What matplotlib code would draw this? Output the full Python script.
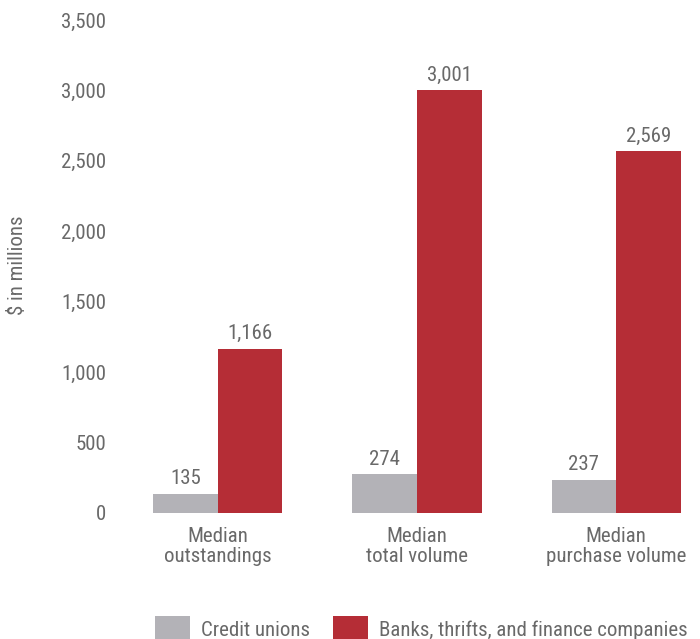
import matplotlib.pyplot as plt
import numpy as np

categories = ["Median\noutstandings", "Median\ntotal volume", "Median\npurchase volume"]
credit_unions = [135, 274, 237]
banks = [1166, 3001, 2569]
series_names = ["Credit unions", "Banks, thrifts, and finance companies"]
yticks = [0, 500, 1000, 1500, 2000, 2500, 3000, 3500]

GRAY = "#b3b2b7"
RED = "#b52d36"
TEXT = "#696969"
FS = 15

plt.rcParams["font.family"] = ["Roboto Condensed", "DejaVu Sans"]

W, H = 700, 639
fig = plt.figure(figsize=(W / 100, H / 100), dpi=100)
ax = fig.add_axes([120 / W, 1 - 513 / H, 580 / W, 493 / H])

x = np.arange(len(categories))
w = 0.325
b1 = ax.bar(x - w / 2, credit_unions, w, color=GRAY, label=series_names[0])
b2 = ax.bar(x + w / 2, banks, w, color=RED, label=series_names[1])

# value labels above each bar
for bars in (b1, b2):
    for rect in bars:
        v = rect.get_height()
        ax.annotate(f"{v:,.0f}", (rect.get_x() + rect.get_width() / 2, v),
                    xytext=(0, 7), textcoords="offset points",
                    ha="center", va="baseline", fontsize=FS, color=TEXT)

ax.set_xlim(-0.49, 2.42)
ax.set_ylim(0, 3500)
ax.set_yticks(yticks)
ax.set_yticklabels([f"{t:,}" for t in yticks])
ax.set_xticks(x)
ax.set_xticklabels(categories, linespacing=1.1)
ax.tick_params(length=0, labelsize=FS, colors=TEXT)
ax.tick_params(axis="y", pad=10)
ax.tick_params(axis="x", pad=10)
for s in ax.spines.values():
    s.set_visible(False)

fig.text(18 / W, 1 - 265 / H, "$ in millions", rotation=90, ha="center",
         va="center", fontsize=FS, color=TEXT)

fig.legend(loc="lower left", bbox_to_anchor=(155 / W, -2 / H), ncol=2,
           frameon=False, fontsize=FS, borderpad=0, borderaxespad=0,
           handlelength=1.7, handleheight=1.45, handletextpad=0.5,
           columnspacing=1.1, labelcolor=TEXT)

fig.savefig("out.png", dpi=100)
